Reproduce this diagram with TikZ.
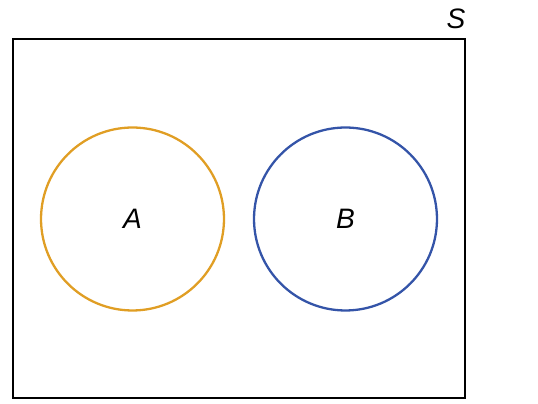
\documentclass[tikz,border=0pt]{standalone}
\usepackage{fontspec}
\setmainfont{Liberation Sans}
\usepackage{tikz}
\usetikzlibrary{positioning}
\definecolor{setorange}{RGB}{224,158,36}
\definecolor{setblue}{RGB}{52,84,168}

\begin{document}
\begin{tikzpicture}[x=0.02cm,y=-0.02cm]
      \useasboundingbox (0,0) rectangle (538,404);
      \begin{scope}[every node/.style={font=\fontsize{16}{18}\selectfont\itshape}]
        \node[draw=black,line width=1.2pt,minimum width=9.04cm,minimum height=7.18cm,inner sep=0pt] (s) at (239,218.5) {};
        \node (slabel) at (456,19) {S};
        \node[circle,draw=setorange,line width=1.3pt,minimum size=3.66cm] (a) at (132.5,219) {A};
        \node[circle,draw=setblue,line width=1.3pt,minimum size=3.66cm] (b) at (345.5,219) {B};
      \end{scope}
    \end{tikzpicture}
\end{document}
